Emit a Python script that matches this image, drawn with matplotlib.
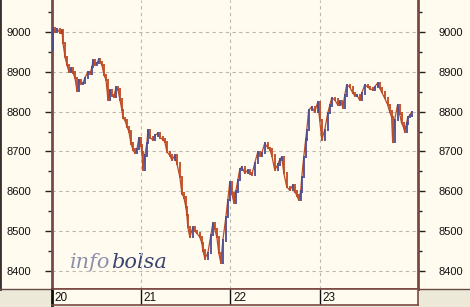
import matplotlib
matplotlib.use("Agg")
import matplotlib.pyplot as plt

# ---- data ----
days = [20, 21, 22, 23]
day_labels = ["20", "21", "22", "23"]
y_ticks = [8400, 8500, 8600, 8700, 8800, 8900, 9000]

t = [20.000, 20.011, 20.034, 20.056, 20.090, 20.112, 20.123, 20.146, 20.168, 20.190,
     20.213, 20.235, 20.258, 20.280, 20.302, 20.325, 20.347, 20.370, 20.403, 20.426,
     20.448, 20.459, 20.482, 20.504, 20.526, 20.538, 20.560, 20.582, 20.605, 20.627,
     20.650, 20.672, 20.694, 20.717, 20.739, 20.761, 20.784, 20.795, 20.817, 20.840,
     20.862, 20.885, 20.907, 20.929, 20.952, 20.974, 20.997, 21.008, 21.019, 21.041,
     21.064, 21.075, 21.097, 21.131, 21.153, 21.187, 21.209, 21.243, 21.265, 21.288,
     21.321, 21.344, 21.377, 21.400, 21.433, 21.456, 21.478, 21.501, 21.512, 21.523,
     21.545, 21.579, 21.601, 21.624, 21.657, 21.680, 21.691, 21.713, 21.747, 21.781,
     21.803, 21.825, 21.848, 21.870, 21.893, 21.915, 21.949, 21.971, 21.993, 22.016,
     22.038, 22.060, 22.083, 22.105, 22.128, 22.161, 22.195, 22.217, 22.240, 22.273,
     22.307, 22.329, 22.352, 22.385, 22.419, 22.441, 22.464, 22.497, 22.531, 22.553,
     22.576, 22.598, 22.632, 22.665, 22.699, 22.721, 22.744, 22.766, 22.788, 22.800,
     22.822, 22.844, 22.856, 22.878, 22.912, 22.945, 22.979, 23.001, 23.024, 23.057,
     23.091, 23.113, 23.135, 23.169, 23.203, 23.225, 23.247, 23.259, 23.281, 23.303,
     23.337, 23.371, 23.393, 23.415, 23.449, 23.471, 23.505, 23.539, 23.561, 23.595,
     23.617, 23.651, 23.673, 23.695, 23.729, 23.763, 23.785, 23.807, 23.819, 23.841,
     23.874, 23.897, 23.919, 23.942, 23.953, 23.975, 23.987, 24.009, 24.031]

price = [8955, 9010, 9000, 9008, 8997, 9003, 8972, 8937, 8917, 8900,
         8908, 8898, 8884, 8852, 8880, 8870, 8872, 8885, 8900, 8895,
         8912, 8928, 8918, 8922, 8932, 8924, 8917, 8892, 8880, 8830,
         8854, 8840, 8837, 8862, 8855, 8830, 8804, 8784, 8779, 8762,
         8750, 8720, 8705, 8696, 8706, 8734, 8715, 8697, 8655, 8690,
         8722, 8754, 8735, 8729, 8740, 8746, 8735, 8730, 8724, 8699,
         8690, 8678, 8690, 8670, 8636, 8595, 8585, 8560, 8540, 8510,
         8485, 8510, 8500, 8495, 8485, 8470, 8452, 8432, 8445, 8490,
         8520, 8505, 8485, 8445, 8420, 8477, 8535, 8578, 8623, 8595,
         8572, 8600, 8628, 8655, 8661, 8646, 8653, 8645, 8641, 8671,
         8699, 8690, 8696, 8721, 8709, 8705, 8690, 8653, 8667, 8680,
         8686, 8646, 8611, 8603, 8615, 8600, 8590, 8578, 8600, 8636,
         8686, 8730, 8754, 8804, 8812, 8799, 8824, 8779, 8729, 8754,
         8796, 8815, 8834, 8830, 8817, 8825, 8820, 8810, 8840, 8867,
         8862, 8847, 8840, 8842, 8829, 8845, 8867, 8862, 8858, 8854,
         8862, 8872, 8860, 8849, 8834, 8817, 8800, 8786, 8724, 8779,
         8817, 8795, 8771, 8760, 8749, 8770, 8786, 8790, 8799]

# ---- styles ----
CREAM = "#FFFBEF"
GRAY = "#ECE9D8"
SPINE = "#7A4A44"
UP = "#4A4C95"
DOWN = "#BE4A22"
W, H = 470, 307

plt.rcParams["font.family"] = ["Liberation Sans", "DejaVu Sans"]
fig = plt.figure(figsize=(W / 100, H / 100), dpi=100, facecolor=GRAY)

# cream background panel (left/right label areas)
bg = fig.add_axes([0, 18 / H, 1, 1 - 18 / H], facecolor=CREAM, zorder=0)
bg.set_xticks([]); bg.set_yticks([])
for s in bg.spines.values():
    s.set_visible(False)
bg.spines["left"].set_visible(True)
bg.spines["left"].set_color("#3A3030")
bg.spines["left"].set_linewidth(2)
bg.spines["bottom"].set_visible(True)
bg.spines["bottom"].set_color("#6A4A44")
bg.spines["bottom"].set_linewidth(1.0)

ax = fig.add_axes([52 / W, 18 / H, 366 / W, 289 / H], facecolor=CREAM, zorder=2)

# bars: each bar spans from previous close to current close
for i in range(1, len(t)):
    p0, p1 = price[i - 1], price[i]
    col = UP if p1 >= p0 else DOWN
    ax.vlines(t[i], min(p0, p1) - 3, max(p0, p1) + 3, color=col, lw=1.3, zorder=3)
ax.plot(t, price, color=DOWN, lw=0.9, zorder=2)

ax.set_xlim(20, 20 + 366 / 89.2)
ax.set_ylim(8355, 9080)

ax.set_yticks(y_ticks)
ax.set_yticks(list(range(8400, 9080, 50)), minor=True)
ax.set_yticklabels([str(v) for v in y_ticks])
ax.set_xticks(days)
ax.tick_params(axis="x", which="both", length=0, labelbottom=False)
ax.tick_params(axis="y", which="major", direction="out", length=5, width=1,
               color="#222222", labelsize=8, labelcolor="#111111",
               left=True, right=True, labelleft=True, labelright=True, pad=10)
ax.tick_params(axis="y", which="minor", direction="out", length=3, width=1,
               color="#222222", left=True, right=True)

ax.grid(True, which="major", axis="both", color="#BDB8AE", lw=0.8,
        linestyle=(0, (3, 3)))
for s in ["left", "right", "bottom"]:
    ax.spines[s].set_color(SPINE)
    ax.spines[s].set_linewidth(2)
ax.spines["top"].set_visible(False)

# watermark
wm1 = ax.text(0.049, 0.073, "info", transform=ax.transAxes, fontsize=15,
              style="italic", family="DejaVu Serif", color="#8C90AC", zorder=1,
              va="baseline")
ax.annotate("bolsa", xy=(1, 0), xycoords=wm1, xytext=(0.5, 0), textcoords="offset points",
            fontsize=15, style="italic", family="DejaVu Serif", weight="medium",
            color="#3A4470", zorder=1, va="bottom")

# date band
bx = fig.add_axes([52 / W, 2 / H, 366 / W, 16 / H], facecolor=CREAM, zorder=2)
bx.set_xlim(ax.get_xlim())
bx.set_ylim(0, 1)
bx.set_xticks([])
bx.set_yticks([])
for s in ["left", "right", "bottom", "top"]:
    bx.spines[s].set_color(SPINE)
    bx.spines[s].set_linewidth(1.2)
bx.spines["left"].set_color("#111111")
bx.spines["left"].set_linewidth(2)
for d, lab in zip(days, day_labels):
    bx.axvline(d, color="#111111", lw=1)
    bx.text(d + 0.03, 0.45, lab, va="center", ha="left", fontsize=8.5, color="#111111")

fig.savefig("out.png", dpi=100, facecolor=GRAY)
